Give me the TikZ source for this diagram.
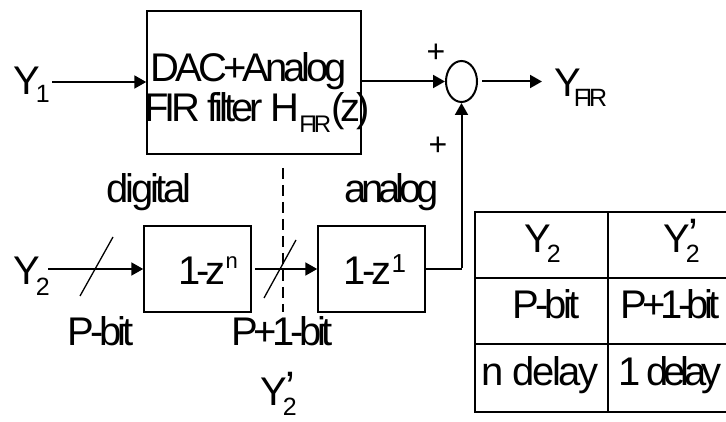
\documentclass[tikz,border=0pt]{standalone}
\usepackage{fontspec}
\setmainfont{Liberation Sans}[LetterSpace=-10]
\newfontfamily\plainfont{Liberation Sans}
\usetikzlibrary{arrows.meta,shapes.geometric}
\newcommand{\lsub}[3][10pt]{\raisebox{-#1}{\fontsize{#2}{#2}\selectfont #3}}
\newcommand{\lsup}[3]{\raisebox{#1}{\fontsize{#2}{#2}\selectfont #3}}
\newcommand{\lsp}[1]{\addfontfeature{LetterSpace=#1}}
\newcommand{\Ysub}[2][10pt]{Y\kern-4pt\lsub[#1]{25}{#2}}
\newcommand{\Ytwop}{Y\kern-4pt\rlap{\lsub{25}{2}}\kern3pt\raisebox{3pt}{\fontsize{44}{44}\selectfont ’}}
\tikzset{
  blk/.style={draw, line width=1.5pt, inner sep=0pt},
  arr/.style={line width=2pt, -{Triangle[length=12pt,width=13pt]}},
  txt/.style={inner sep=0pt, anchor=base, font=\fontsize{40}{40}\selectfont},
  txtw/.style={inner sep=0pt, anchor=base west, font=\fontsize{40}{40}\selectfont},
  pls/.style={inner sep=0pt, font=\plainfont\fontsize{32}{32}\selectfont},
  thinline/.style={line width=1.3pt},
  tbl/.style={line width=1.5pt}
}
\begin{document}
\begin{tikzpicture}[x=1pt,y=-1pt]
\useasboundingbox (0,0) rectangle (726,422);
% top path
\node[txtw] (y1) at (13,95) {\Ysub[8pt]{1}};
\node[blk, minimum width=214pt, minimum height=143pt] (fir) at (254,82.5) {};
\node[txt] (fira) at (249,82) {DAC+Analog};
\node[txt] (firb) at (257,122) {FIR filter H\lsub[11pt]{24}{\lsp{-14}FIR}(z)};
\node[ellipse, draw, line width=2pt, minimum width=31pt, minimum height=41pt, inner sep=0pt] (sum) at (461.5,81.5) {};
\node[txtw] (yfir) at (554,97) {Y\kern-7pt\lsub[10pt]{25}{\lsp{-14}FIR}};
\node[pls] (p1) at (436,53) {+};
\node[pls] (p2) at (438,146) {+};
\coordinate (y1o) at (52,82);
\coordinate (yo) at (542,81.5);
\draw[arr] (y1o) -- (y1o -| fir.west);
\draw[arr] (fir.east |- sum.west) -- (sum.west);
\draw[arr] ([xshift=4pt]sum.east) -- (yo);
% labels
\node[txt] (dig) at (149,203) {\lsp{-8}digital};
\node[txt] (ana) at (391.5,203) {\lsp{-13}analog};
\draw[line width=2pt, dash pattern=on 11pt off 6pt] (282.5,168) -- (282.5,312);
% bottom path
\node[txtw] (y2) at (13,285) {\Ysub{2}};
\node[blk, minimum width=107pt, minimum height=86pt] (bn) at (197.5,269) {};
\node[txt] (bnt) at (208,285) {1-z\lsup{16.5pt}{22}{n}};
\node[blk, minimum width=107pt, minimum height=86pt] (b1) at (371.5,269) {};
\node[txt] (b1t) at (375,285) {1-z\lsup{13pt}{26}{1}};
\coordinate (y2o) at (48,269);
\draw[arr] (y2o) -- (bn.west);
\draw[arr] ([xshift=3pt]bn.east) -- (b1.west);
\coordinate (corner) at (sum.south |- b1.east);
\draw[thinline] (b1.east) -- (corner);
\draw[arr] ([yshift=1pt]corner) -- (sum.south);
\draw[thinline] (80,296) -- (113,237);
\draw[thinline] (264,298) -- (296,240);
\node[txt] (pbit) at (100.5,345) {P-bit};
\node[txt] (p1bit) at (282,345) {\lsp{-11}P+1-bit};
\node[txtw] (y2p) at (260,405) {\Ytwop};
% table
\draw[tbl] (726,212) -- (475,212) -- (475,412) -- (726,412);
\draw[tbl] (475,278) -- (726,278);
\draw[tbl] (475,344) -- (726,344);
\draw[tbl] (608,212) -- (608,412);
\node[txtw] (ta) at (524,253) {\Ysub{2}};
\node[txtw] (tb) at (663,253) {\Ytwop};
\node[txt] (tc) at (546,318) {P-bit};
\node[txt] (td) at (670,318) {\lsp{-12}P+1-bit};
\node[txt] (te) at (540,385) {\lsp{-6}n delay};
\node[txt] (tf) at (670,385) {\lsp{-13}1 delay};
\end{tikzpicture}
\end{document}
